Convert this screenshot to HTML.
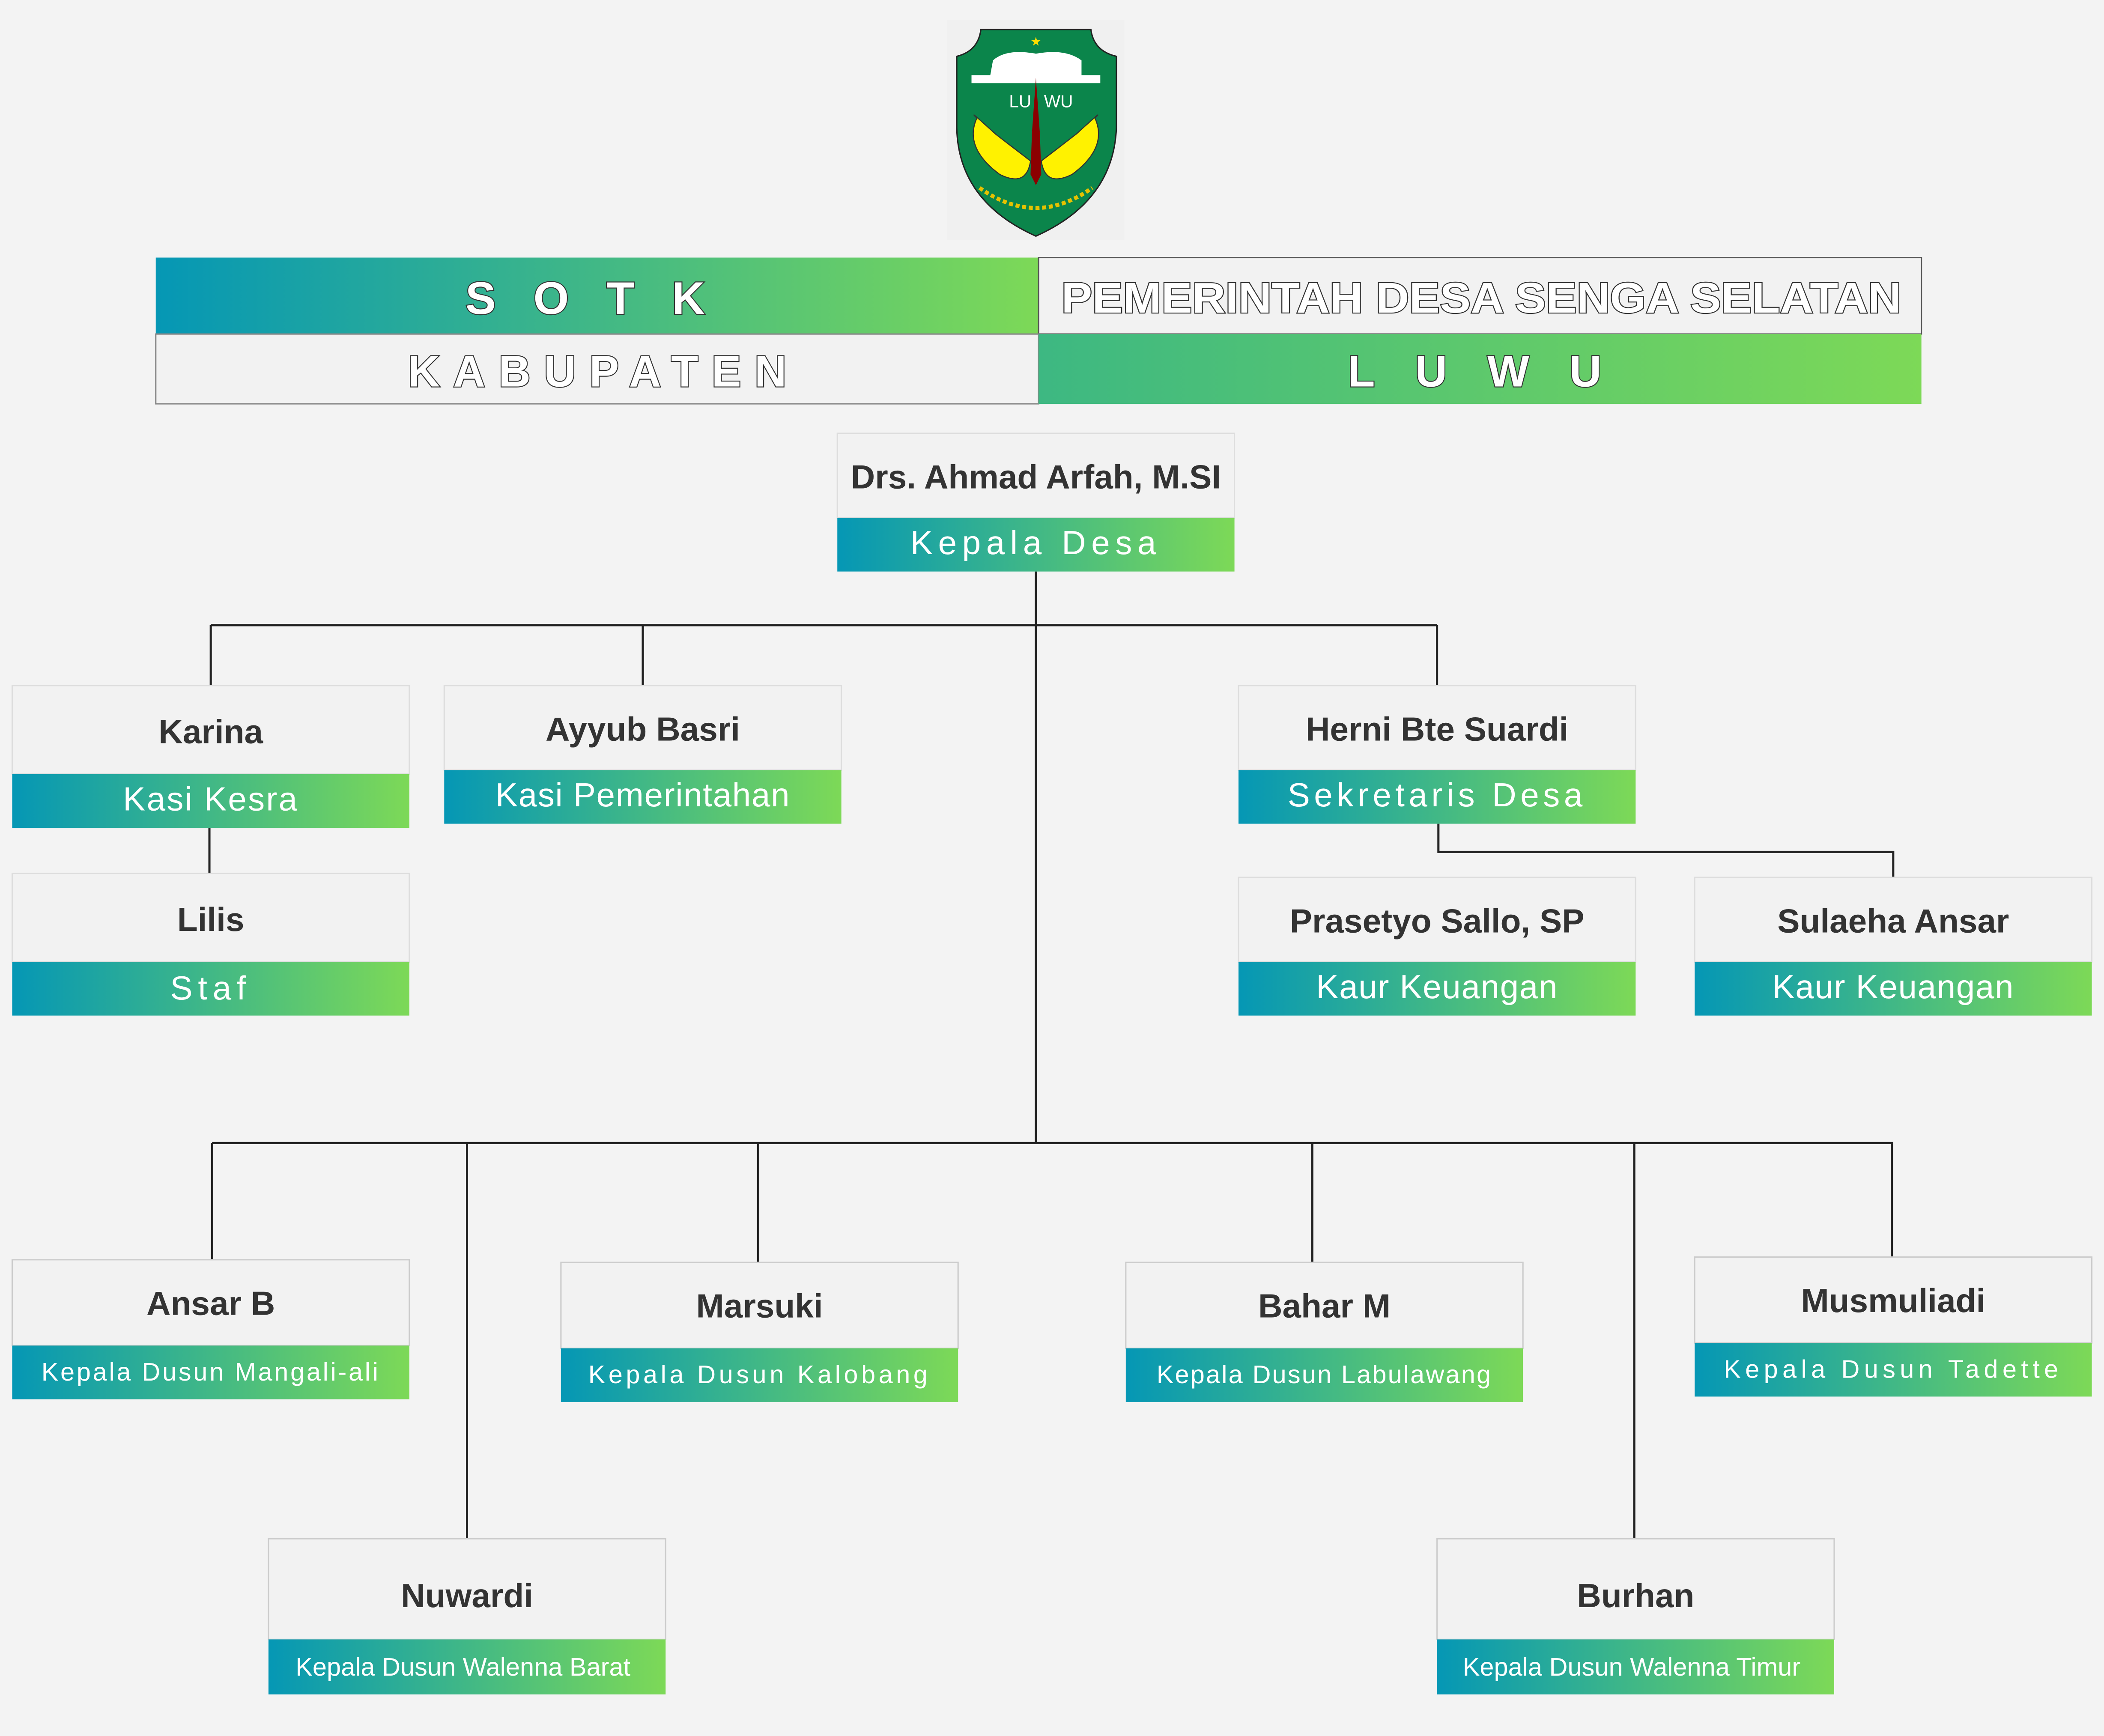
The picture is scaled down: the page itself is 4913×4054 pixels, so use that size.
<!DOCTYPE html>
<html><head><meta charset="utf-8"><style>
html,body{margin:0;padding:0;background:#f3f3f3}
svg{display:block}
text{font-family:"Liberation Sans",sans-serif}
.n{font-weight:bold;fill:#333;font-size:25px}
.r{fill:#fff;font-size:25px}
.rs{fill:#fff;font-size:19px}
.o{fill:#fff;stroke:#333;stroke-width:1.4px;font-weight:bold;paint-order:stroke}
</style></head><body>
<svg width="4913" height="4054" viewBox="0 0 1568 1294" xmlns="http://www.w3.org/2000/svg">
<defs>
<linearGradient id="g" x1="0" x2="1" y1="0" y2="0"><stop offset="0" stop-color="#0597b5"/><stop offset="1" stop-color="#7dd957"/></linearGradient>
<linearGradient id="g2" x1="0" x2="1" y1="0" y2="0"><stop offset="0" stop-color="#3db882"/><stop offset="1" stop-color="#7dd957"/></linearGradient>
</defs>
<rect width="1568" height="1294" fill="#f3f3f3"/>
<g>
<rect x="706" y="15" width="132" height="164" fill="#f0f0f0"/>
<path d="M731 22 L813 22 Q815 38 832 42 L832 95 Q830 150 772 176 Q714 150 713 95 L713 42 Q729 38 731 22Z" fill="#0b854b" stroke="#222" stroke-width="1"/>
<path d="M740 45 Q750 36 772 40 Q794 36 806 45 L806 56 L820 56 L820 62 L724 62 L724 56 L738 56Z" fill="#fff"/>
<text x="772" y="34" font-size="9" fill="#ffdd00" text-anchor="middle">★</text>
<path d="M742 100 Q720 80 728 88 Q718 110 745 130 Q765 140 768 120Z" fill="#fff200" stroke="#333" stroke-width="0.8"/>
<path d="M802 100 Q824 80 816 88 Q826 110 799 130 Q779 140 776 120Z" fill="#fff200" stroke="#333" stroke-width="0.8"/>
<path d="M772 58 L775 100 L776 130 L772 138 L768 130 L769 100Z" fill="#8b0000"/>
<text x="752" y="80" font-size="13" fill="#fff" font-family="Liberation Serif,serif">LU</text>
<text x="778" y="80" font-size="13" fill="#fff" font-family="Liberation Serif,serif">WU</text>
<path d="M730 140 Q772 170 814 140" fill="none" stroke="#e6c200" stroke-width="3" stroke-dasharray="3 2"/>
</g>
<rect x="116" y="192" width="658" height="57" fill="url(#g)"/>
<rect x="774" y="192" width="658" height="57" fill="#f2f2f2" stroke="#555" stroke-width="1"/>
<rect x="116" y="249" width="658" height="52" fill="#f2f2f2" stroke="#888" stroke-width="1"/>
<rect x="774" y="249" width="658" height="52" fill="url(#g2)"/>
<text class="o" x="450" y="234" font-size="34" text-anchor="middle" style="letter-spacing:28px">SOTK</text>
<text class="o" x="1104" y="233" font-size="32" text-anchor="middle" textLength="626" lengthAdjust="spacingAndGlyphs">PEMERINTAH DESA SENGA SELATAN</text>
<text class="o" x="450" y="288" font-size="33" text-anchor="middle" style="letter-spacing:10px">KABUPATEN</text>
<text class="o" x="1114" y="288" font-size="33" text-anchor="middle" style="letter-spacing:30px">LUWU</text>
<g stroke="#222" stroke-width="1.6" fill="none">
<path d="M772 426V852M157 466H1071M157 466V511M479 466V511M1071 466V511M156 617V651M1072 614V635H1411V654M158 852H1411M158 852V939M348 852V1147M565 852V941M978 852V941M1218 852V1147M1410 852V937"/>
</g>
<g>
<rect x="624" y="323" width="296" height="63" fill="#f2f2f2" stroke="#ddd"/><rect x="624" y="386" width="296" height="40" fill="url(#g)"/>
<text class="n" x="772" y="364" text-anchor="middle">Drs. Ahmad Arfah, M.SI</text><text class="r" x="772" y="413" text-anchor="middle" style="letter-spacing:4px">Kepala Desa</text>

<rect x="9" y="511" width="296" height="66" fill="#f2f2f2" stroke="#ddd"/><rect x="9" y="577" width="296" height="40" fill="url(#g)"/>
<text class="n" x="157" y="554" text-anchor="middle" font-size="27">Karina</text><text class="r" x="157" y="604" text-anchor="middle" style="letter-spacing:1px">Kasi Kesra</text>

<rect x="331" y="511" width="296" height="63" fill="#f2f2f2" stroke="#ddd"/><rect x="331" y="574" width="296" height="40" fill="url(#g)"/>
<text class="n" x="479" y="552" text-anchor="middle">Ayyub Basri</text><text class="r" x="479" y="601" text-anchor="middle" style="letter-spacing:0.5px">Kasi Pemerintahan</text>

<rect x="923" y="511" width="296" height="63" fill="#f2f2f2" stroke="#ddd"/><rect x="923" y="574" width="296" height="40" fill="url(#g)"/>
<text class="n" x="1071" y="552" text-anchor="middle">Herni Bte Suardi</text><text class="r" x="1071" y="601" text-anchor="middle" style="letter-spacing:3px">Sekretaris Desa</text>

<rect x="9" y="651" width="296" height="66" fill="#f2f2f2" stroke="#ddd"/><rect x="9" y="717" width="296" height="40" fill="url(#g)"/>
<text class="n" x="157" y="694" text-anchor="middle" font-size="27">Lilis</text><text class="r" x="157" y="745" text-anchor="middle" style="letter-spacing:4px">Staf</text>

<rect x="923" y="654" width="296" height="63" fill="#f2f2f2" stroke="#ddd"/><rect x="923" y="717" width="296" height="40" fill="url(#g)"/>
<text class="n" x="1071" y="695" text-anchor="middle">Prasetyo Sallo, SP</text><text class="r" x="1071" y="744" text-anchor="middle" style="letter-spacing:0.5px">Kaur Keuangan</text>

<rect x="1263" y="654" width="296" height="63" fill="#f2f2f2" stroke="#ddd"/><rect x="1263" y="717" width="296" height="40" fill="url(#g)"/>
<text class="n" x="1411" y="695" text-anchor="middle">Sulaeha Ansar</text><text class="r" x="1411" y="744" text-anchor="middle" style="letter-spacing:0.5px">Kaur Keuangan</text>

<rect x="9" y="939" width="296" height="64" fill="#f2f2f2" stroke="#ccc"/><rect x="9" y="1003" width="296" height="40" fill="url(#g)"/>
<text class="n" x="157" y="980" text-anchor="middle">Ansar B</text><text class="rs" x="157" y="1029" text-anchor="middle" style="letter-spacing:1.5px">Kepala Dusun Mangali-ali</text>

<rect x="418" y="941" width="296" height="64" fill="#f2f2f2" stroke="#ccc"/><rect x="418" y="1005" width="296" height="40" fill="url(#g)"/>
<text class="n" x="566" y="982" text-anchor="middle">Marsuki</text><text class="rs" x="566" y="1031" text-anchor="middle" style="letter-spacing:2.4px">Kepala Dusun Kalobang</text>

<rect x="839" y="941" width="296" height="64" fill="#f2f2f2" stroke="#ccc"/><rect x="839" y="1005" width="296" height="40" fill="url(#g)"/>
<text class="n" x="987" y="982" text-anchor="middle">Bahar M</text><text class="rs" x="987" y="1031" text-anchor="middle" style="letter-spacing:1px">Kepala Dusun Labulawang</text>

<rect x="1263" y="937" width="296" height="64" fill="#f2f2f2" stroke="#ccc"/><rect x="1263" y="1001" width="296" height="40" fill="url(#g)"/>
<text class="n" x="1411" y="978" text-anchor="middle">Musmuliadi</text><text class="rs" x="1411" y="1027" text-anchor="middle" style="letter-spacing:3.3px">Kepala Dusun Tadette</text>

<rect x="200" y="1147" width="296" height="75" fill="#f2f2f2" stroke="#ccc"/><rect x="200" y="1222" width="296" height="41" fill="url(#g)"/>
<text class="n" x="348" y="1198" text-anchor="middle">Nuwardi</text><text class="rs" x="345" y="1249" text-anchor="middle" style="letter-spacing:0px">Kepala Dusun Walenna Barat</text>

<rect x="1071" y="1147" width="296" height="75" fill="#f2f2f2" stroke="#ccc"/><rect x="1071" y="1222" width="296" height="41" fill="url(#g)"/>
<text class="n" x="1219" y="1198" text-anchor="middle">Burhan</text><text class="rs" x="1216" y="1249" text-anchor="middle" style="letter-spacing:0px">Kepala Dusun Walenna Timur</text>
</g>
</svg>
</body></html>
